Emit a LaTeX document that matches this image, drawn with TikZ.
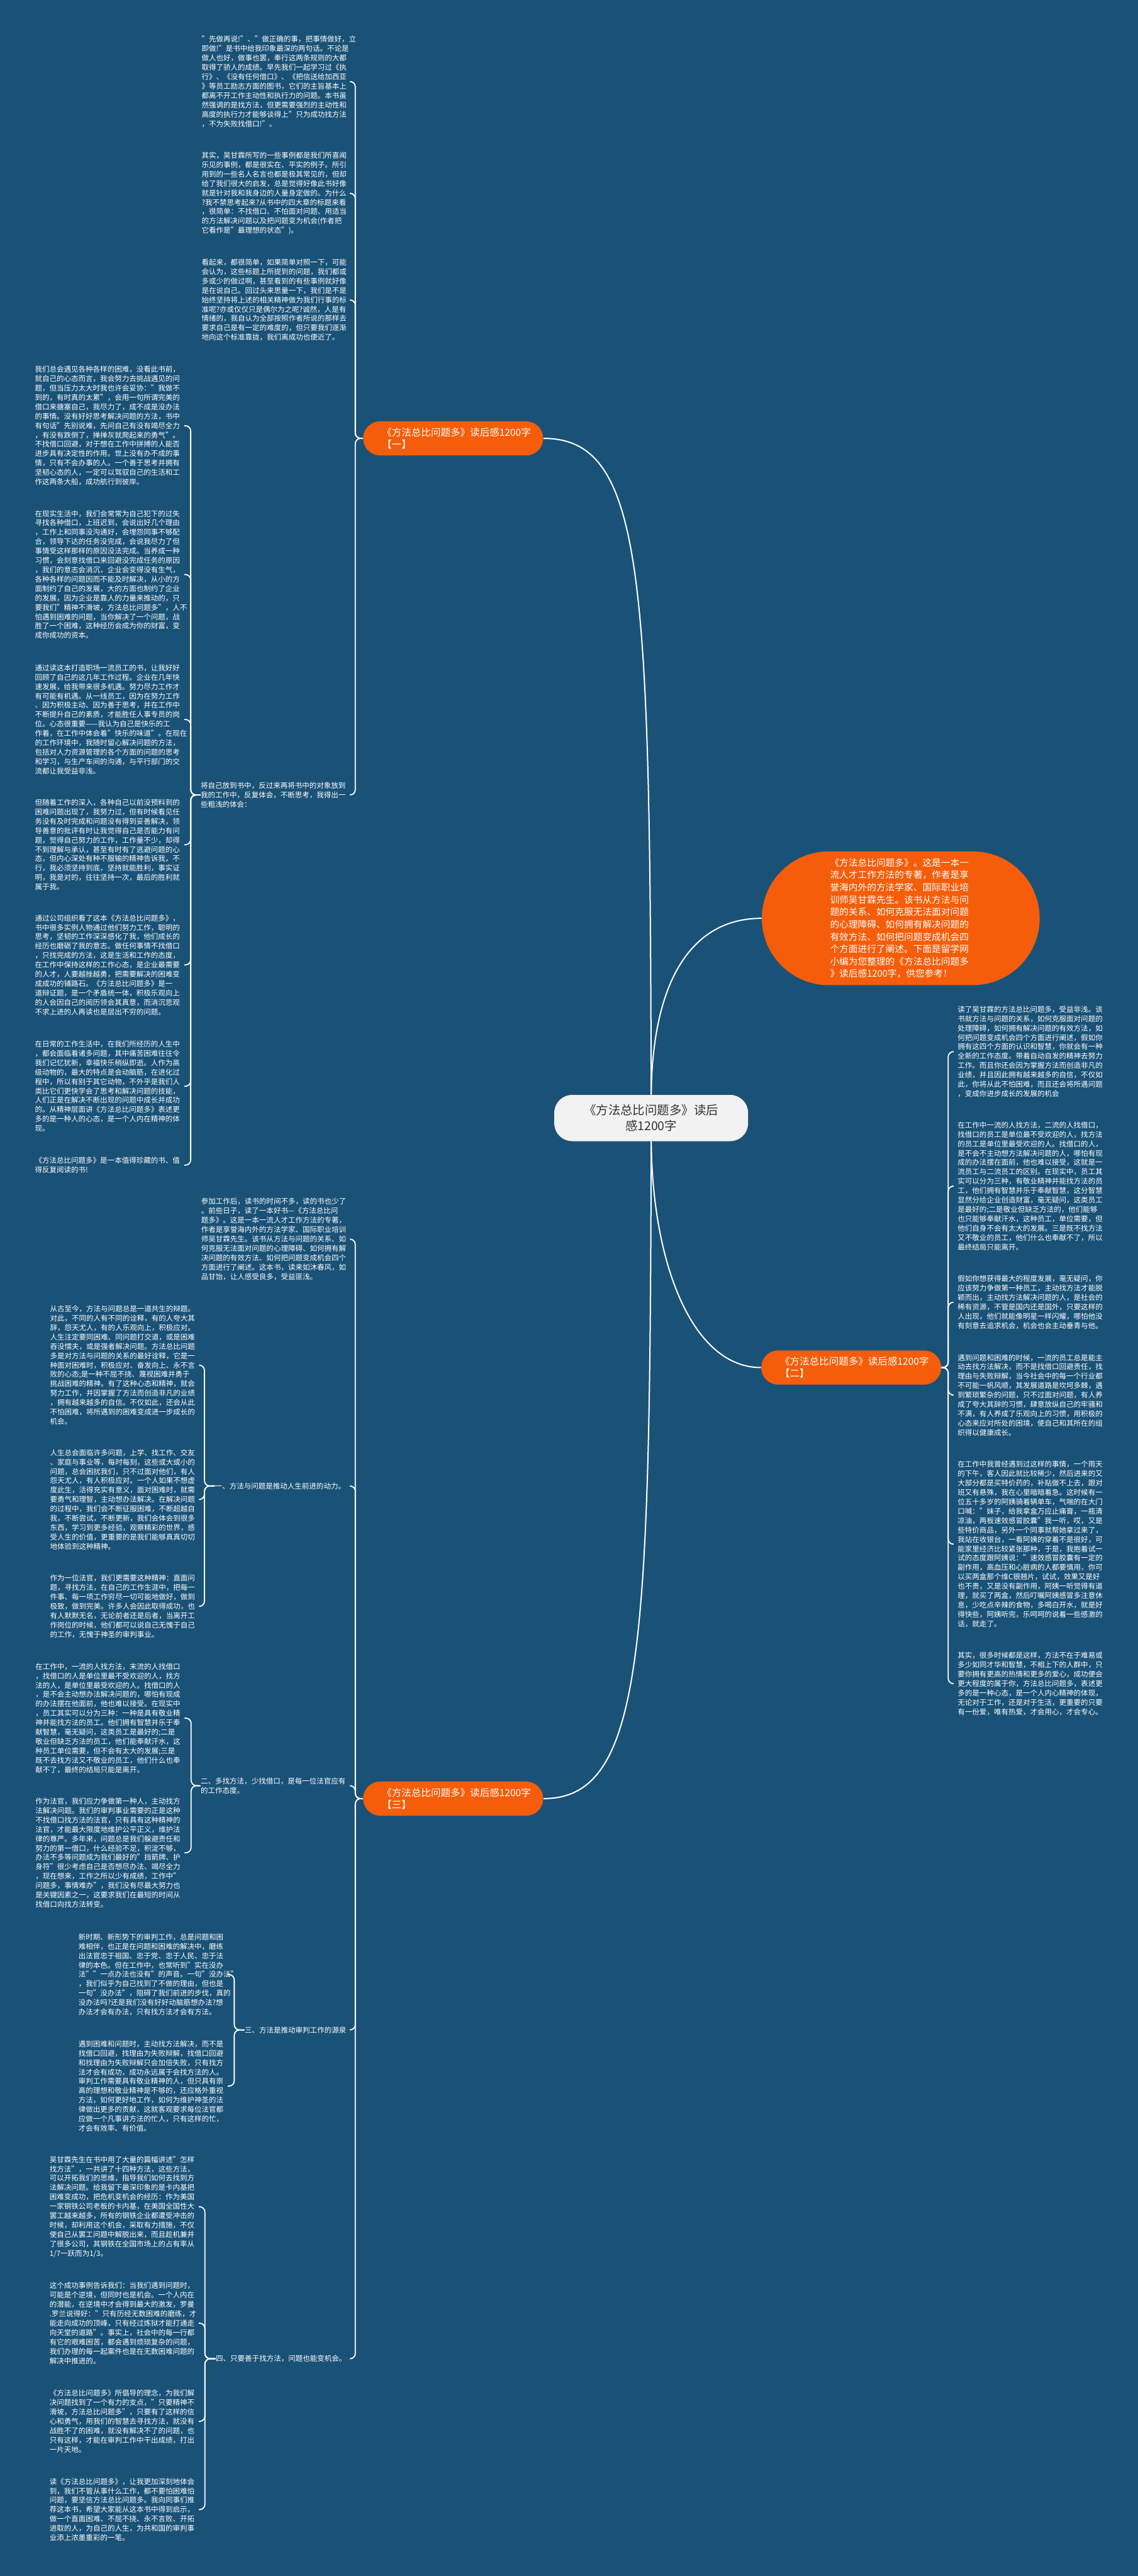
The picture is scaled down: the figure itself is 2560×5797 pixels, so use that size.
\documentclass[tikz,border=0pt]{standalone}
\usepackage{fontspec}
\setmainfont{Noto Sans CJK SC}
\usetikzlibrary{calc,shapes.misc}
\definecolor{bg}{HTML}{1A5277}
\definecolor{org}{HTML}{F55D0A}
\definecolor{cfill}{HTML}{F2F2F2}
\definecolor{ctext}{HTML}{333333}
\newcommand{\myTxt}{\fontsize{4.89pt}{6.33pt}\selectfont}
\newcommand{\myBr}{\fontsize{6.6pt}{8.1pt}\selectfont}
\newcommand{\myOr}{\fontsize{6.24pt}{8.34pt}\selectfont}
\newcommand{\myCt}{\fontsize{8.25pt}{10.8pt}\selectfont}
\begin{document}
\begin{tikzpicture}[x=0.3pt,y=-0.3pt,
  txt/.style={anchor=west, inner sep=0pt, text=white, font=\myTxt, text width=102pt, align=left},
  lbl/.style={anchor=west, inner sep=0pt, text=white, font=\myTxt, align=left},
  brnode/.style={rounded rectangle, fill=org, text=white, font=\myBr, minimum width=121.5pt, minimum height=23.1pt, text width=96pt, align=left, inner sep=0pt},
  onode/.style={rounded rectangle, fill=org, text=white, font=\myOr, minimum width=187.5pt, minimum height=90.3pt, text width=95.4pt, align=left, inner sep=0pt},
  cnode/.style={rectangle, rounded corners=12pt, fill=cfill, text=ctext, font=\myCt, minimum width=130.8pt, minimum height=31.2pt, align=center, inner sep=0pt},
  conn/.style={draw=white, line width=0.75pt, rounded corners=3.6pt},
  mconn/.style={draw=white, line width=0.85pt}]
\useasboundingbox (0,0) rectangle (2560,5797);
\fill[bg] (0,0) rectangle (2560,5797);

% ---------- main nodes ----------
\node[cnode] (C) at (1465,2516) {《方法总比问题多》读后\\感1200字};
\node[onode] (O) at (2026.5,2066.5) {《方法总比问题多》。这是一本一\\流人才工作方法的专著，作者是享\\誉海内外的方法学家、国际职业培\\训师吴甘霖先生。该书从方法与问\\题的关系、如何克服无法面对问题\\的心理障碍、如何拥有解决问题的\\有效方法、如何把问题变成机会四\\个方面进行了阐述。下面是留学网\\小编为您整理的《方法总比问题多\\》读后感1200字，供您参考！};
\node[brnode] (N1) at (1019.5,986.5) {《方法总比问题多》读后感1200字\\【一】};
\node[brnode] (N2) at (1915,3077.5) {《方法总比问题多》读后感1200字\\【二】};
\node[brnode] (N3) at (1019.5,4047.5) {《方法总比问题多》读后感1200字\\【三】};

\draw[mconn] (C.north) .. controls (1462,1300) and (1450,986.5) .. (N1.east);
\draw[mconn] (C.north) .. controls (1468,2200) and (1560,2066.5) .. (O.west);
\draw[mconn] (C.south) .. controls (1468,2850) and (1560,3077.5) .. (N2.west);
\draw[mconn] (C.south) .. controls (1462,3700) and (1450,4047.5) .. (N3.east);

% ---------- branch 1 ----------
\node[txt] (A) at (453,183.5) {"先做再说!"、"做正确的事，把事情做好，立\\即做!"是书中给我印象最深的两句话。不论是\\做人也好，做事也罢，奉行这两条规则的大都\\取得了骄人的成绩。早先我们一起学习过《执\\行》、《没有任何借口》、《把信送给加西亚\\》等员工励志方面的图书，它们的主旨基本上\\都离不开工作主动性和执行力的问题。本书虽\\然强调的是找方法，但更需要强烈的主动性和\\高度的执行力才能够谈得上"只为成功找方法\\，不为失败找借口!"。};
\node[txt] (B) at (453,435) {其实，吴甘霖所写的一些事例都是我们所喜闻\\乐见的事例，都是很实在、平实的例子。所引\\用到的一些名人名言也都是极其常见的，但却\\给了我们很大的启发，总是觉得好像此书好像\\就是针对我和我身边的人量身定做的。为什么\\?我不禁思考起来?从书中的四大章的标题来看\\，很简单：不找借口、不怕面对问题、用适当\\的方法解决问题以及把问题变为机会(作者把\\它看作是"最理想的状态")。};
\node[txt] (Cc) at (453,675) {看起来，都很简单，如果简单对照一下，可能\\会认为，这些标题上所提到的问题，我们都或\\多或少的做过啊，甚至看到的有些事例就好像\\是在说自己。回过头来思量一下，我们是不是\\始终坚持将上述的相关精神做为我们行事的标\\准呢?亦或仅仅只是偶尔为之呢?诚然，人是有\\情绪的，我自认为全部按照作者所说的那样去\\要求自己是有一定的难度的，但只要我们逐渐\\地向这个标准靠拢，我们离成功也便近了。};
\node[txt] (D) at (451,1789) {将自己放到书中，反过来再将书中的对象放到\\我的工作中，反复体会，不断思考，我得出一\\些粗浅的体会：};

\node[txt] (L1) at (78,958) {我们总会遇见各种各样的困难，没看此书前，\\就自己的心态而言，我会努力去挑战遇见的问\\题，但当压力太大时我也许会妥协："我做不\\到的，有时真的太累"，会用一句所谓完美的\\借口来搪塞自己，我尽力了，成不成是没办法\\的事情。没有好好思考解决问题的方法，书中\\有句话"先别说难，先问自己有没有竭尽全力\\，有没有跌倒了，掸掸灰就爬起来的勇气"。\\不找借口回避，对于想在工作中拼搏的人能否\\进步具有决定性的作用。世上没有办不成的事\\情，只有不会办事的人。一个善于思考并拥有\\坚韧心态的人，一定可以驾驭自己的生活和工\\作这两条大船，成功航行到彼岸。};
\node[txt] (L2) at (78,1293) {在现实生活中，我们会常常为自己犯下的过失\\寻找各种借口，上班迟到，会说出好几个理由\\，工作上和同事没沟通好，会埋怨同事不够配\\合，领导下达的任务没完成，会说我尽力了但\\事情受这样那样的原因没法完成。当养成一种\\习惯，会刻意找借口来回避没完成任务的原因\\，我们的意志会消沉，企业会变得没有生气，\\各种各样的问题因而不能及时解决，从小的方\\面制约了自己的发展，大的方面也制约了企业\\的发展，因为企业是靠人的力量来推动的，只\\要我们"精神不滑坡，方法总比问题多"，人不\\怕遇到困难的问题，当你解决了一个问题，战\\胜了一个困难，这种经历会成为你的财富，变\\成你成功的资本。};
\node[txt] (L3) at (78,1619) {通过读这本打造职场一流员工的书，让我好好\\回顾了自己的这几年工作过程。企业在几年快\\速发展，给我带来很多机遇。努力尽力工作才\\有可能有机遇。从一线员工，因为在努力工作\\、因为积极主动、因为善于思考，并在工作中\\不断提升自己的素质，才能胜任人事专员的岗\\位。心态很重要——我认为自己是快乐的工\\作着，在工作中体会着"快乐的味道"。在现在\\的工作环境中，我随时留心解决问题的方法，\\包括对人力资源管理的各个方面的问题的思考\\和学习，与生产车间的沟通，与平行部门的交\\流都让我受益非浅。};
\node[txt] (L4) at (78,1901) {但随着工作的深入，各种自己以前没预料到的\\困难问题出现了，我努力过，但有时候看见任\\务没有及时完成和问题没有得到妥善解决，领\\导善意的批评有时让我觉得自己是否能力有问\\题，觉得自己努力的工作，工作量不少，却得\\不到理解与承认，甚至有时有了逃避问题的心\\态，但内心深处有种不服输的精神告诉我，不\\行，我必须坚持到底，坚持就能胜利，事实证\\明，我是对的，往往坚持一次，最后的胜利就\\属于我。};
\node[txt] (L5) at (78,2171.5) {通过公司组织看了这本《方法总比问题多》，\\书中很多实例人物通过他们努力工作，聪明的\\思考，坚韧的工作深深感化了我，他们成长的\\经历也磨砺了我的意志。做任何事情不找借口\\，只找完成的方法，这是生活和工作的态度，\\在工作中保持这样的工作心态，是企业最需要\\的人才，人要越挫越勇，把需要解决的困难变\\成成功的铺路石。《方法总比问题多》是一\\道辩证题，是一个矛盾统一体，积极乐观向上\\的人会因自己的阅历领会其真意，而消沉悲观\\不求上进的人再读也是层出不穷的问题。};
\node[txt] (L6) at (78,2444.5) {在日常的工作生活中，在我们所经历的人生中\\，都会面临着诸多问题，其中痛苦困难往往令\\我们记忆犹新，幸福快乐稍纵即逝。人作为高\\级动物的，最大的特点是会动脑筋，在进化过\\程中，所以有别于其它动物，不外乎是我们人\\类比它们更快学会了思考和解决问题的技能，\\人们正是在解决不断出现的问题中成长并成功\\的。从精神层面讲《方法总比问题多》表述更\\多的是一种人的心态，是一个人内在精神的体\\现。};
\node[txt] (L7) at (78,2622) {《方法总比问题多》是一本值得珍藏的书、值\\得反复阅读的书!};

\foreach \k in {A,B,Cc,D} \draw[conn] (N1.west) -- ++(-17,0) |- ($(\k.east)+(-5,0)$);
\foreach \k in {L1,L2,L3,L4,L5,L6,L7} \draw[conn] (D.west) -- ++(-22,0) |- ($(\k.east)+(-5,0)$);

% ---------- branch 2 ----------
\node[txt] (R1) at (2154,2366.5) {读了吴甘霖的方法总比问题多，受益非浅。该\\书就方法与问题的关系，如何克服面对问题的\\处理障碍，如何拥有解决问题的有效方法，如\\何把问题变成机会四个方面进行阐述，假如你\\拥有这四个方面的认识和智慧，你就会有一种\\全新的工作态度。带着自动自发的精神去努力\\工作。而且你还会因为掌握方法而创造非凡的\\业绩，并且因此拥有越来越多的自信，不仅如\\此，你将从此不怕困难，而且还会将所遇问题\\，变成你进步成长的发展的机会};
\node[txt] (R2) at (2154,2669) {在工作中一流的人找方法，二流的人找借口，\\找借口的员工是单位最不受欢迎的人，找方法\\的员工是单位里最受欢迎的人。找借口的人，\\是不会不主动想方法解决问题的人，哪怕有现\\成的办法摆在面前，他也难以接受，这就是一\\流员工与二流员工的区别。在现实中，员工其\\实可以分为三种，有敬业精神并能找方法的员\\工，他们拥有智慧并乐于奉献智慧，这分智慧\\显然分给企业创造财富，毫无疑问，这类员工\\是最好的;二是敬业但缺乏方法的，他们能够\\也只能够奉献汗水，这种员工，单位需要，但\\他们自身不会有太大的发展。三是既不找方法\\又不敬业的员工，他们什么也奉献不了，所以\\最终结局只能离开。};
\node[txt] (R3) at (2154,2930.5) {假如你想获得最大的程度发展，毫无疑问，你\\应该努力争做第一种员工，主动找方法才能脱\\颖而出，主动找方法解决问题的人，是社会的\\稀有资源，不管是国内还是国外，只要这样的\\人出现，他们就能像明星一样闪耀，哪怕他没\\有刻意去追求机会，机会也会主动垂青与他。};
\node[txt] (R4) at (2154,3139.5) {遇到问题和困难的时候，一流的员工总是能主\\动去找方法解决，而不是找借口回避责任，找\\理由与失败辩解，当今社会中的每一个行业都\\不可能一帆风顺，其发展道路是坎坷多棘，遇\\到繁琐繁杂的问题，只不过面对问题，有人养\\成了夸大其辞的习惯，肆意放纵自己的牢骚和\\不满，有人养成了乐观向上的习惯，用积极的\\心态来应对所处的困境，使自己和其所在的组\\织得以健康成长。};
\node[txt] (R5) at (2154,3475) {在工作中我曾经遇到过这样的事情，一个雨天\\的下午，客人因此就比较稀少，然后进来的又\\大部分都是买特价药的，补贴做不上去，跟对\\班又有悬殊，我在心里暗暗着急。这时候有一\\位五十多岁的阿姨骑着辆单车，气喘的在大门\\口喊："妹子，给我拿盒万应止痛膏，一瓶清\\凉油，两板速效感冒胶囊"我一听，哎，又是\\些特价商品，另外一个同事就帮她拿过来了，\\我站在收银台，一看阿姨的穿着不是很好，可\\能家里经济比较紧张那种，于是，我抱着试一\\试的态度跟阿姨说："速效感冒胶囊有一定的\\副作用，高血压和心脏病的人都要慎用，你可\\以买两盒那个维C银翘片，试试，效果又是好\\也不贵，又是没有副作用，阿姨一听觉得有道\\理，就买了两盒，然后叮嘱阿姨感冒多注意休\\息，少吃点辛辣的食物，多喝白开水，就是好\\得快些，阿姨听完，乐呵呵的说着一些感激的\\话，就走了。};
\node[txt] (R6) at (2154,3789) {其实，很多时候都是这样，方法不在于难易或\\多少如同才华和智慧，不相上下的人群中，只\\要你拥有更高的热情和更多的爱心，成功便会\\更大程度的属于你，方法总比问题多，表述更\\多的是一种心态，是一个人内心精神的体现，\\无论对于工作，还是对于生活，更重要的只要\\有一份爱，唯有热爱，才会用心，才会专心。};

\foreach \k in {R1,R2,R3,R4,R5,R6} \draw[conn] (N2.east) -- ++(15,0) |- ($(\k.west)+(-9,0)$);

% ---------- branch 3 ----------
\node[txt] (E) at (452,2788.5) {参加工作后，读书的时间不多，读的书也少了\\。前些日子，读了一本好书—《方法总比问\\题多》。这是一本一流人才工作方法的专著，\\作者是享誉海内外的方法学家、国际职业培训\\师吴甘霖先生。该书从方法与问题的关系、如\\何克服无法面对问题的心理障碍、如何拥有解\\决问题的有效方法、如何把问题变成机会四个\\方面进行了阐述。这本书，读来如沐春风，如\\品甘饴，让人感受良多，受益匪浅。};
\node[lbl] (P1) at (483,3344) {一、方法与问题是推动人生前进的动力。};
\node[lbl] (P2) at (451,4018.5) {二、多找方法，少找借口，是每一位法官应有\\的工作态度。};
\node[lbl] (P3) at (550,4568) {三、方法是推动审判工作的源泉};
\node[lbl] (P4) at (485,5308) {四、只要善于找方法，问题也能变机会。};

\draw[conn] (N3.west) -- ++(-17,0) |- ($(E.east)+(-5,0)$);
\foreach \k in {P1,P2,P3,P4} \draw[conn] (N3.west) -- ++(-17,0) |- ($(\k.east)+(10,0)$);

\node[txt] (C1) at (112,3072) {从古至今，方法与问题总是一道共生的辩题。\\对此，不同的人有不同的诠释，有的人夸大其\\辞，怨天尤人，有的人乐观向上，积极应对。\\人生注定要同困难、同问题打交道，或是困难\\吞没懦夫，或是强者解决问题。方法总比问题\\多是对方法与问题的关系的最好诠释，它是一\\种面对困难时，积极应对、奋发向上、永不言\\败的心态;是一种不屈不挠、蔑视困难并勇于\\挑战困难的精神。有了这种心态和精神，就会\\努力工作，并因掌握了方法而创造非凡的业绩\\，拥有越来越多的自信。不仅如此，还会从此\\不怕困难，将所遇到的困难变成进一步成长的\\机会。};
\node[txt] (C2) at (112,3374.5) {人生总会面临许多问题，上学、找工作、交友\\、家庭与事业等，每时每刻，这些或大或小的\\问题，总会困扰我们，只不过面对他们，有人\\怨天尤人，有人积极应对。一个人如果不想虚\\度此生，活得充实有意义，面对困难时，就需\\要勇气和理智，主动想办法解决。在解决问题\\的过程中，我们会不断征服困难，不断超越自\\我，不断尝试，不断更新，我们会体会到很多\\东西，学习到更多经验，观察精彩的世界，感\\受人生的价值，更重要的是我们能够真真切切\\地体验到这种精神。};
\node[txt] (C3) at (112,3615) {作为一位法官，我们更需要这种精神：直面问\\题，寻找方法，在自己的工作生涯中，把每一\\件事、每一项工作穷尽一切可能地做好，做到\\极致，做到完美。许多人会因此取得成功，也\\有人默默无名，无论前者还是后者，当离开工\\作岗位的时候，他们都可以说自己无愧于自己\\的工作，无愧于神圣的审判事业。};
\foreach \k in {C1,C2,C3} \draw[conn] (P1.west) -- ++(-23,0) |- ($(\k.east)+(-5,0)$);

\node[txt] (B1) at (79,3866.5) {在工作中，一流的人找方法，末流的人找借口\\，找借口的人是单位里最不受欢迎的人，找方\\法的人，是单位里最受欢迎的人。找借口的人\\，是不会主动想办法解决问题的，哪怕有现成\\的办法摆在他面前，他也难以接受。在现实中\\，员工其实可以分为三种：一种是具有敬业精\\神并能找方法的员工。他们拥有智慧并乐于奉\\献智慧，毫无疑问，这类员工是最好的;二是\\敬业但缺乏方法的员工，他们能奉献汗水，这\\种员工单位需要，但不会有太大的发展;三是\\既不去找方法又不敬业的员工，他们什么也奉\\献不了，最终的结局只能是离开。};
\node[txt] (B2) at (79,4169.5) {作为法官，我们应力争做第一种人，主动找方\\法解决问题。我们的审判事业需要的正是这种\\不找借口找方法的法官，只有具有这种精神的\\法官，才能最大限度地维护公平正义，维护法\\律的尊严。多年来，问题总是我们躲避责任和\\努力的第一借口，什么经验不足，积淀不够，\\办法不多等问题成为我们最好的"挡箭牌、护\\身符"很少考虑自己是否想尽办法、竭尽全力\\，现在想来，工作之所以少有成绩，工作中"\\问题多，事情难办"，我们没有尽最大努力也\\是关键因素之一，这要求我们在最短的时间从\\找借口向找方法转变。};
\foreach \k in {B1,B2} \draw[conn] (P2.west) -- ++(-21,0) |- ($(\k.east)+(-5,0)$);

\node[txt] (T1) at (176,4443.5) {新时期、新形势下的审判工作，总是问题和困\\难相伴，也正是在问题和困难的解决中，磨练\\出法官忠于祖国、忠于党、忠于人民、忠于法\\律的本色。但在工作中，也常听到"实在没办\\法""一点办法也没有"的声音。一句"没办法"\\，我们似乎为自己找到了不做的理由，但也是\\一句"没办法"，阻碍了我们前进的步伐，真的\\没办法吗?还是我们没有好好动脑筋想办法?想\\办法才会有办法，只有找方法才会有方法。};
\node[txt] (T2) at (176,4694.5) {遇到困难和问题时，主动找方法解决，而不是\\找借口回避，找理由为失败辩解，找借口回避\\和找理由为失败辩解只会加倍失败，只有找方\\法才会有成功，成功永远属于会找方法的人。\\审判工作需要具有敬业精神的人，但只具有崇\\高的理想和敬业精神是不够的，还应格外重视\\方法，如何更好地工作，如何为维护神圣的法\\律做出更多的贡献，这就客观要求每位法官都\\应做一个凡事讲方法的忙人，只有这样的忙，\\才会有效率、有价值。};
\foreach \k in {T1,T2} \draw[conn] (P3.west) -- ++(-23,0) |- ($(\k.east)+(-5,0)$);

\node[txt] (F1) at (111,4966) {吴甘霖先生在书中用了大量的篇幅讲述"怎样\\找方法"，一共讲了十四种方法，这些方法，\\可以开拓我们的思维，指导我们如何去找到方\\法解决问题。给我留下最深印象的是卡内基把\\困难变成功，把危机变机会的经历：作为美国\\一家钢铁公司老板的卡内基，在美国全国性大\\罢工越来越多，所有的钢铁企业都遭受冲击的\\时候，却利用这个机会，采取有力措施，不仅\\使自己从罢工问题中解脱出来，而且趁机兼并\\了很多公司，其钢铁在全国市场上的占有率从\\1/7一跃而为1/3。};
\node[txt] (F2) at (111,5228) {这个成功事例告诉我们：当我们遇到问题时，\\可能是个逆境，但同时也是机会。一个人内在\\的潜能，在逆境中才会得到最大的激发，罗曼\\.罗兰说得好："只有历经无数困难的磨练，才\\能走向成功的顶峰，只有经过炼狱才能打通走\\向天堂的道路"。事实上，社会中的每一行都\\有它的艰难困苦，都会遇到烦琐复杂的问题，\\我们办理的每一起案件也是在无数困难问题的\\解决中推进的。};
\node[txt] (F3) at (111,5449) {《方法总比问题多》所倡导的理念，为我们解\\决问题找到了一个有力的支点，"只要精神不\\滑坡，方法总比问题多"，只要有了这样的信\\心和勇气，用我们的智慧去寻找方法，就没有\\战胜不了的困难，就没有解决不了的问题，也\\只有这样，才能在审判工作中干出成绩，打出\\一片天地。};
\node[txt] (F4) at (111,5647.5) {读《方法总比问题多》，让我更加深刻地体会\\到，我们不管从事什么工作，都不要怕困难怕\\问题，要坚信方法总比问题多。我向同事们推\\荐这本书，希望大家能从这本书中得到启示，\\做一个直面困难、不屈不挠、永不言败、开拓\\进取的人，为自己的人生，为共和国的审判事\\业添上浓墨重彩的一笔。};
\foreach \k in {F1,F2,F3,F4} \draw[conn] (P4.west) -- ++(-24,0) |- ($(\k.east)+(-5,0)$);
\end{tikzpicture}
\end{document}
